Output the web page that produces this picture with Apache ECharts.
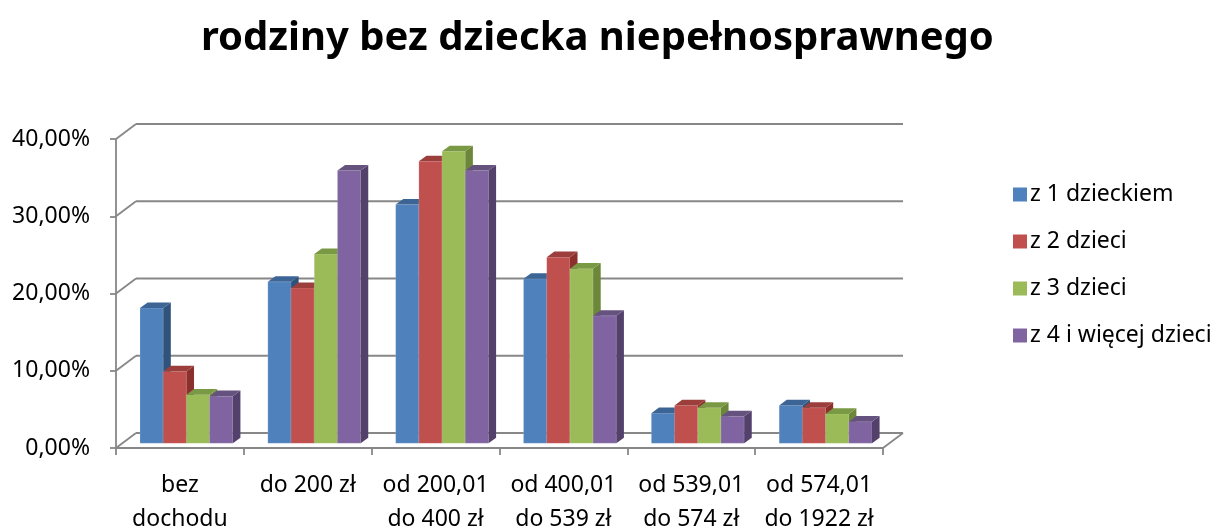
<!DOCTYPE html>
<html>
<head>
<meta charset="utf-8">
<script src="https://cdn.jsdelivr.net/npm/echarts@6/dist/echarts.min.js"></script>
<style>
html,body{margin:0;padding:0;background:#fff;}
#chart{width:1216px;height:527px;}
</style>
</head>
<body>
<div id="chart"></div>
<script>
// kategorie dochodu
var categories=['bez\ndochodu','do 200 zł','od 200,01\ndo 400 zł','od 400,01\ndo 539 zł','od 539,01\ndo 574 zł','od 574,01\ndo 1922 zł'];
var seriesNames=['z 1 dzieckiem','z 2 dzieci','z 3 dzieci','z 4 i więcej dzieci'];
// wartosci w %
var z1=[17.5,20.9,30.9,21.3,3.9,4.9];
var z2=[9.3,20.1,36.5,24.1,4.9,4.6];
var z3=[6.3,24.5,37.8,22.6,4.6,3.8];
var z4=[6.1,35.3,35.3,16.5,3.5,2.8];
var yTicks=[0,10,20,30,40];

var frontColors=['#4F81BD','#C0504D','#9BBB59','#8064A2'];
var sideColors=['#30537C','#8C302E','#6C873A','#53416B'];
var topColors=['#3C6596','#9C3F3C','#7A9944','#66527F'];

var wallDx=20,wallDy=-15;   // glebokosc scian
var barFx=6.5,barFy=-4.7;   // przod slupka
var barDx=7.6,barDy=-5.6;   // glebokosc slupka
var gridColor='#878787';

var myChart=echarts.init(document.getElementById('chart'));

function renderFrame(params,api){
	var band=api.size([1,0])[0];
	var left=api.coord([0,0])[0]-band/2;
	var right=api.coord([categories.length-1,0])[0]+band/2;
	var children=[];
	for(var i=0;i<yTicks.length;i++){
		var y=api.coord([0,yTicks[i]])[1];
		// linia na lewej scianie
		children.push({type:'line',shape:{x1:left,y1:y,x2:left+wallDx,y2:y+wallDy},style:{stroke:gridColor,lineWidth:1.8}});
		// linia na tylnej scianie
		children.push({type:'line',shape:{x1:left+wallDx,y1:y+wallDy,x2:right+wallDx,y2:y+wallDy},style:{stroke:gridColor,lineWidth:1.8}});
	}
	var y0=api.coord([0,0])[1];
	children.push({type:'line',shape:{x1:right,y1:y0,x2:right+wallDx,y2:y0+wallDy},style:{stroke:gridColor,lineWidth:1.8}});
	return {type:'group',children:children};
}

function makeBar(idx){
	return function(params,api){
		var cat=api.value(0);
		var base=api.coord([cat,0]);
		var top=api.coord([cat,api.value(1)]);
		var band=api.size([1,0])[0];
		var w=band*0.1815;
		var x0=base[0]+barFx-2*w+idx*w;
		var y0=top[1]+barFy;
		var y1=base[1]+barFy;
		return {type:'group',children:[
			{type:'rect',shape:{x:x0,y:y0,width:w,height:y1-y0},style:{fill:frontColors[idx],stroke:'rgba(255,255,255,0.25)',lineWidth:0.6}},
			{type:'polygon',shape:{points:[[x0+w,y0],[x0+w+barDx,y0+barDy],[x0+w+barDx,y1+barDy],[x0+w,y1]]},style:{fill:sideColors[idx]}},
			{type:'polygon',shape:{points:[[x0,y0],[x0+barDx,y0+barDy],[x0+w+barDx,y0+barDy],[x0+w,y0]]},style:{fill:topColors[idx]}}
		]};
	};
}

var values=[z1,z2,z3,z4];
var seriesArr=[{
	name:'frame',
	type:'custom',
	renderItem:renderFrame,
	data:[[0,0]],
	clip:false,
	silent:true,
	z:1
}];
for(var i=0;i<values.length;i++){
	var d=[];
	for(var k=0;k<values[i].length;k++){
		d.push([k,values[i][k]]);
	}
	seriesArr.push({
		name:seriesNames[i],
		type:'custom',
		renderItem:makeBar(i),
		encode:{x:0,y:1},
		itemStyle:{color:frontColors[i]},
		data:d,
		clip:false,
		z:2+i
	});
}

var option={
	animation:false,
	backgroundColor:'#fff',
	textStyle:{fontFamily:'Noto Sans'},
	title:{
		text:'rodziny bez dziecka niepełnosprawnego',
		left:196,
		top:14,
		textStyle:{fontFamily:'Noto Sans',fontWeight:'bold',fontSize:40,color:'#000'}
	},
	legend:{
		data:seriesNames,
		orient:'vertical',
		left:1008,
		top:178,
		itemWidth:14,
		itemHeight:14,
		itemGap:24,
		icon:'rect',
		textStyle:{fontFamily:'Noto Sans',fontSize:23,color:'#000',padding:[0,0,0,-2]}
	},
	grid:{left:116,right:333,top:139,bottom:79,containLabel:false,outerBoundsMode:'none'},
	xAxis:{
		type:'category',
		data:categories,
		axisLine:{show:true,lineStyle:{color:gridColor,width:1.8}},
		axisTick:{show:true,length:7,lineStyle:{color:gridColor,width:1.8}},
		axisLabel:{fontFamily:'Noto Sans',fontSize:23,color:'#000',margin:20,lineHeight:34,interval:0}
	},
	yAxis:{
		type:'value',
		min:0,
		max:40,
		interval:10,
		axisLine:{show:true,lineStyle:{color:gridColor,width:1.8}},
		axisTick:{show:true,length:6,lineStyle:{color:gridColor,width:1.8}},
		splitLine:{show:false},
		axisLabel:{
			fontFamily:'Noto Sans',fontSize:23,color:'#000',margin:26,
			formatter:function(v){return v.toFixed(2).replace('.',',')+'%';}
		}
	},
	series:seriesArr
};
myChart.setOption(option);
</script>
</body>
</html>
